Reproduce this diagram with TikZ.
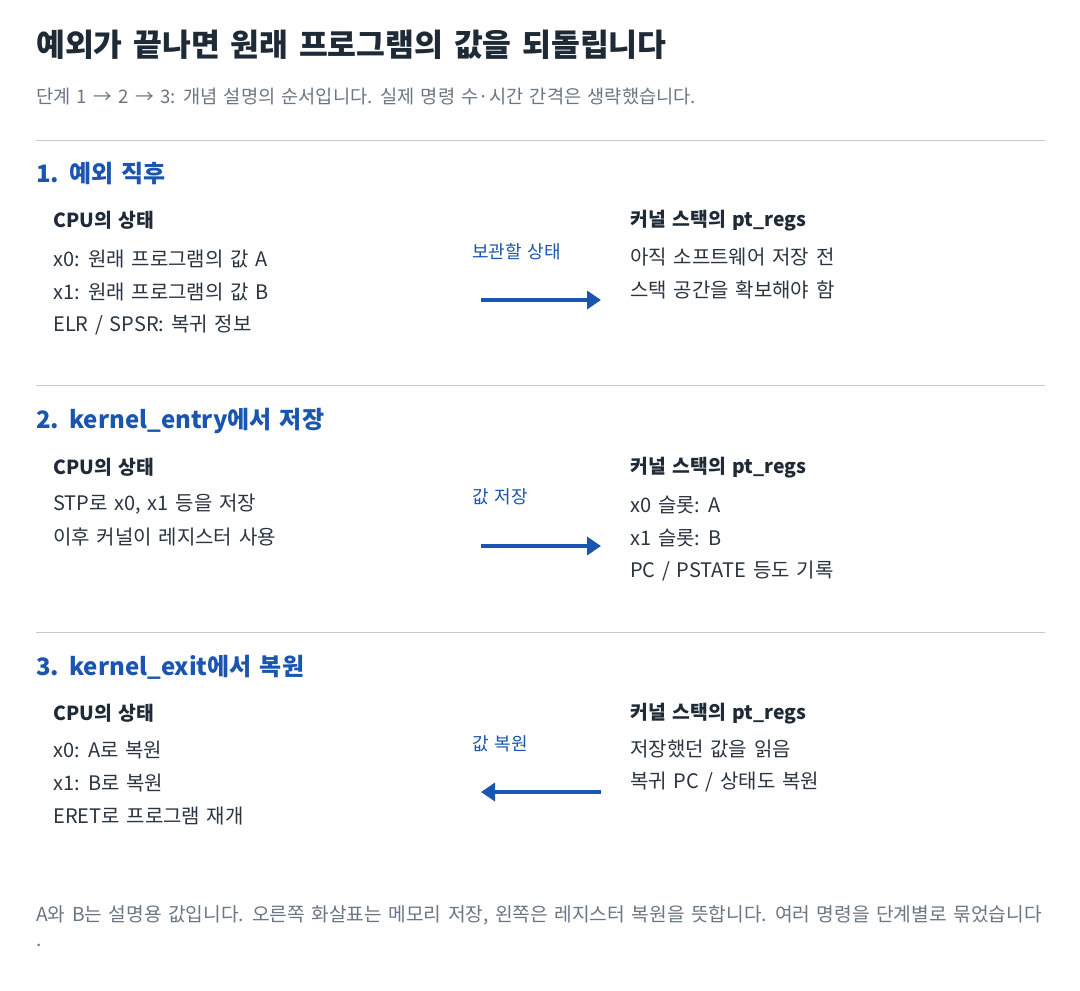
\documentclass[tikz,border=0pt]{standalone}
\usepackage{fontspec}
\setmainfont[WordSpace=1.5]{Noto Sans CJK KR}
\usetikzlibrary{arrows.meta}

\definecolor{titleink}{HTML}{1F2A37}
\definecolor{bodyink}{HTML}{2B3542}
\definecolor{stepblue}{HTML}{1A56B0}
\definecolor{notegray}{HTML}{6B7684}
\definecolor{rulegray}{HTML}{C6C9CD}

\begin{document}
\begin{tikzpicture}[x=0.75pt, y=-0.75pt, >={Triangle[length=10.5pt, width=13.5pt]}]
    \tikzset{
        title/.style = {anchor=west, inner sep=0pt, text=titleink, font=\fontsize{23.5}{28}\selectfont\bfseries},
        subtitle/.style = {anchor=west, inner sep=0pt, text=notegray, font=\fontsize{14}{17}\selectfont},
        steptitle/.style = {anchor=west, inner sep=0pt, text=stepblue, font=\fontsize{18}{22}\selectfont\bfseries},
        colhead/.style = {anchor=west, inner sep=0pt, text=titleink, font=\fontsize{14.5}{17}\selectfont\bfseries},
        item/.style = {anchor=west, inner sep=0pt, text=bodyink, font=\fontsize{15}{18}\selectfont},
        flowlabel/.style = {anchor=west, inner sep=0pt, text=stepblue, font=\fontsize{13.5}{16}\selectfont},
        note/.style = {anchor=west, inner sep=0pt, text=notegray, font=\fontsize{14.4}{17}\selectfont},
        flow/.style = {->, line width=3pt, draw=stepblue},
        sep/.style = {draw=rulegray, line width=0.75pt}
    }

    \useasboundingbox[fill=white] (0,0) rectangle (1080,990);

    % heading
    \node[title] (head) at (36,45) {예외가 끝나면 원래 프로그램의 값을 되돌립니다};
    \node[subtitle] (sub) at (36,97) {단계 1 → 2 → 3: 개념 설명의 순서입니다. 실제 명령 수·시간 간격은 생략했습니다.};
    \draw[sep] (36,140) -- (1045,140);

    % step 1
    \begin{scope}
        \path
            node[steptitle] (s1) at (36,174) {1. 예외 직후}
            node[colhead] (s1cpu) at (53,220) {CPU의 상태}
            node[item] (s1x0) at (53,259) {x0: 원래 프로그램의 값 A}
            node[item] (s1x1) at (53,292) {x1: 원래 프로그램의 값 B}
            node[item] (s1elr) at (53,325) {ELR / SPSR: 복귀 정보}
            node[flowlabel] (s1lab) at (472,252) {보관할 상태}
            node[colhead] (s1stk) at (630,221) {커널 스택의 pt\_regs}
            node[item] (s1r1) at (630,257) {아직 소프트웨어 저장 전}
            node[item] (s1r2) at (630,290) {스택 공간을 확보해야 함}
            coordinate (s1from) at (481,300)
            coordinate (s1to) at (601,300)
            (s1from) edge[flow] (s1to)
        ;
    \end{scope}
    \draw[sep] (36,385) -- (1045,385);

    % step 2
    \begin{scope}
        \path
            node[steptitle] (s2) at (36,421) {2. kernel\_entry에서 저장}
            node[colhead] (s2cpu) at (53,467) {CPU의 상태}
            node[item] (s2stp) at (53,504) {STP로 x0, x1 등을 저장}
            node[item] (s2use) at (53,537) {이후 커널이 레지스터 사용}
            node[flowlabel] (s2lab) at (472,497) {값 저장}
            node[colhead] (s2stk) at (630,468) {커널 스택의 pt\_regs}
            node[item] (s2r1) at (630,505) {x0 슬롯: A}
            node[item] (s2r2) at (630,538) {x1 슬롯: B}
            node[item] (s2r3) at (630,571) {PC / PSTATE 등도 기록}
            coordinate (s2from) at (481,546)
            coordinate (s2to) at (601,546)
            (s2from) edge[flow] (s2to)
        ;
    \end{scope}
    \draw[sep] (36,632) -- (1045,632);

    % step 3
    \begin{scope}
        \path
            node[steptitle] (s3) at (36,667) {3. kernel\_exit에서 복원}
            node[colhead] (s3cpu) at (53,713) {CPU의 상태}
            node[item] (s3x0) at (53,750) {x0: A로 복원}
            node[item] (s3x1) at (53,783) {x1: B로 복원}
            node[item] (s3eret) at (53,816) {ERET로 프로그램 재개}
            node[flowlabel] (s3lab) at (472,744) {값 복원}
            node[colhead] (s3stk) at (630,714) {커널 스택의 pt\_regs}
            node[item] (s3r1) at (630,749) {저장했던 값을 읽음}
            node[item] (s3r2) at (630,782) {복귀 PC / 상태도 복원}
            coordinate (s3from) at (601,792)
            coordinate (s3to) at (481,792)
            (s3from) edge[flow] (s3to)
        ;
    \end{scope}

    % footnote
    \node[note] (foot) at (36,915) {A와 B는 설명용 값입니다. 오른쪽 화살표는 메모리 저장, 왼쪽은 레지스터 복원을 뜻합니다. 여러 명령을 단계별로 묶었습니다};
    \node[note] (footdot) at (36,945) {.};
\end{tikzpicture}
\end{document}
